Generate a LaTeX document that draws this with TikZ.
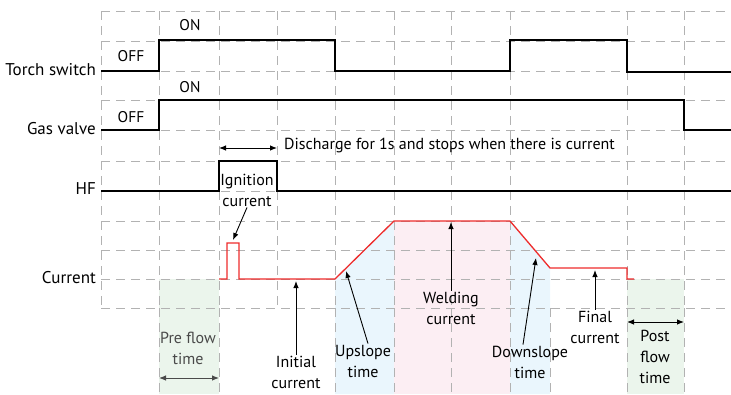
\documentclass[tikz,border=0pt]{standalone}
\usepackage{fontspec}
\setmainfont{PT Sans}
\usetikzlibrary{arrows.meta,positioning}
\definecolor{curred}{HTML}{EE2B2B}
\definecolor{flowgreen}{HTML}{EBF5EC}
\definecolor{slopeblue}{HTML}{EAF6FD}
\definecolor{weldpink}{HTML}{FCEEF3}
\definecolor{flowgray}{HTML}{4A4A4A}

\begin{document}
\begin{tikzpicture}[x=1pt, y=-1pt, every node/.style={font=\fontsize{16}{21}\selectfont, inner sep=1pt}, grid/.style={draw=black!30, line width=0.8pt, dash pattern=on 9pt off 6pt}, sig/.style={line width=1.3pt}, cur/.style={draw=curred, line width=1.3pt}, row/.style={anchor=east, font=\fontsize{17}{20}\selectfont}, state/.style={font=\fontsize{15.5}{18}\selectfont}, note/.style={align=center}, arr/.style={-{Latex[length=7pt,width=5.5pt]}, line width=0.9pt}, span/.style={{Latex[length=7pt,width=5.5pt]}-{Latex[length=7pt,width=5.5pt]}, line width=0.9pt}]
\useasboundingbox (0,0) rectangle (731,394);
% shaded phases
\fill[flowgreen] (159,279) rectangle (219,394);
\fill[slopeblue] (335,279) -- (394,221) -- (394,394) -- (335,394) -- cycle;
\fill[weldpink] (394,221) rectangle (510,394);
\fill[slopeblue] (510,221) -- (550,268) -- (550,394) -- (510,394) -- cycle;
\fill[flowgreen] (627,279) rectangle (684,394);
% grid
\foreach \y in {11,41,71,100,130,161,191,221,250,279,308}
  \draw[grid] (101,\y) -- (730,\y);
\foreach \x in {101,159,219,277,335,394,451,510,627,684}
  \draw[grid] (\x,11) -- (\x,308);
\foreach \x in {159,219,335,394,451,510,550,627,684}
  \draw[grid] (\x,308) -- (\x,394);
% signals
\draw[sig] (101,71) -- (159,71) -- (159,40) -- (335,40) -- (335,71) -- (510,71) -- (510,40) -- (627,40) -- (627,72) -- (731,72);
\draw[sig] (101,130) -- (159,130) -- (159,100) -- (684,100) -- (684,130) -- (731,130);
\draw[sig] (101,191) -- (219,191) -- (219,161) -- (277,161) -- (277,191) -- (731,191);
\draw[cur] (219,279) -- (227,279) -- (227,243) -- (239,243) -- (239,279) -- (335,279) -- (394,221) -- (510,221) -- (550,268) -- (627,268) -- (627,279) -- (634,279);
\coordinate (igntip) at (233,240);
\coordinate (inittip) at (296,281);
\coordinate (uptip) at (346,271);
\coordinate (weldtip) at (451,222);
\coordinate (downtip) at (536,258);
\coordinate (finaltip) at (595,270);
% row labels
\node[row] (torch) at (97,70) {Torch switch};
\node[row] (gas) at (97,129) {Gas valve};
\node[row] (hf) at (97,189) {HF};
\node[row] (current) at (97,278) {Current};
\node[state] (off1) at (131,56) {OFF};
\node[state] (on1) at (190,25) {ON};
\node[state] (off2) at (131,117) {OFF};
\node[state] (on2) at (190,87) {ON};
% annotations
\coordinate (hfa) at (219,148);
\coordinate (hfb) at (277,148);
\draw[span] (hfa) -- (hfb);
\node[anchor=west] (discharge) at (283,145) {Discharge for 1s and stops when there is current};
\node[note] (ignition) at (247,190) {Ignition\\current};
\node[note] (initial) at (296,372) {Initial\\current};
\node[note] (upslope) at (363,361) {Upslope\\time};
\node[note] (welding) at (451,308) {Welding\\current};
\node[note] (downslope) at (530,362) {Downslope\\time};
\node[note] (final) at (595,327) {Final\\current};
\node[note, text=flowgray] (preflow) at (188,348) {Pre flow\\time};
\node[note] (postflow) at (655,357) {Post\\flow\\time};
\draw[arr] (ignition.south) -- (igntip);
\draw[arr] (initial.north) -- (inittip);
\draw[arr] ([xshift=5pt]upslope.north) -- (uptip);
\draw[arr] (welding.north) -- (weldtip);
\draw[arr] ([xshift=-7pt]downslope.north) -- (downtip);
\draw[arr] (final.north) -- (finaltip);
\coordinate (prea) at (159,378);
\coordinate (preb) at (219,378);
\draw[span, draw=flowgray] (prea) -- (preb);
\coordinate (posta) at (627,322);
\coordinate (postb) at (684,322);
\draw[span] (posta) -- (postb);
\end{tikzpicture}
\end{document}
